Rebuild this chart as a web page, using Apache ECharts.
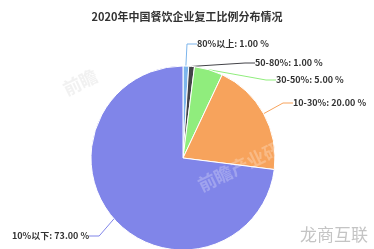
<!DOCTYPE html>
<html><head><meta charset="utf-8">
<script src="https://cdn.jsdelivr.net/npm/echarts@6/dist/echarts.min.js"></script>
<style>html,body{margin:0;padding:0;background:#fff}#c{width:374px;height:249px}</style>
</head><body><div id="c"></div>
<script>
const categories = ['80%以上', '50-80%', '30-50%', '10-30%', '10%以下'];
const values = [1, 1, 5, 20, 73];
const colors = ['#7cb5ec', '#434348', '#90ed7d', '#f7a35c', '#8085e9'];
const labelPos = [[197, 44], [255, 63], [276, 80], [293, 103], [12, 236]];

const chart = echarts.init(document.getElementById('c'), null, {renderer: 'canvas'});
chart.setOption({
  animation: false,
  title: {
    text: '2020年中国餐饮企业复工比例分布情况',
    left: 'center', top: 6,
    textStyle: {fontSize: 11, fontWeight: 'bold', color: '#333', fontFamily: 'Noto Sans CJK SC'}
  },
  graphic: [
    {type: 'text', left: 300, top: 226, z: 100, style: {text: '龙商互联', fontSize: 17, fill: '#c4c4c4', fontFamily: 'Noto Sans CJK SC'}},
    {type: 'text', x: 60, y: 82, rotation: 0.45, z: 100, style: {text: '前瞻', fontSize: 18, fontWeight: 'bold', fill: 'rgba(210,210,210,0.3)', fontFamily: 'Noto Sans CJK SC'}},
    {type: 'text', x: 195, y: 178, rotation: 0.45, z: 100, style: {text: '前瞻产业研究院', fontSize: 18, fontWeight: 'bold', fill: 'rgba(255,255,255,0.25)', fontFamily: 'Noto Sans CJK SC'}}
  ],
  series: [{
    type: 'pie',
    center: [183, 158],
    radius: 92,
    startAngle: 90,
    clockwise: true,
    avoidLabelOverlap: false,
    data: categories.map((c, i) => ({name: c, value: values[i], itemStyle: {color: colors[i]}, labelLine: {lineStyle: {color: colors[i]}}})),
    itemStyle: {borderColor: '#fff', borderWidth: 1},
    label: {
      show: true,
      formatter: p => p.name + ': ' + p.value.toFixed(2) + ' %',
      fontSize: 9, fontWeight: 'bold', color: '#333', fontFamily: 'Noto Sans CJK SC'
    },
    labelLine: {show: true, length: 10, length2: 10, lineStyle: {width: 1}},
    labelLayout: function (p) {
      const pos = labelPos[p.dataIndex];
      return {x: pos[0], y: pos[1], align: 'left', verticalAlign: 'middle'};
    }
  }]
});
</script></body></html>
